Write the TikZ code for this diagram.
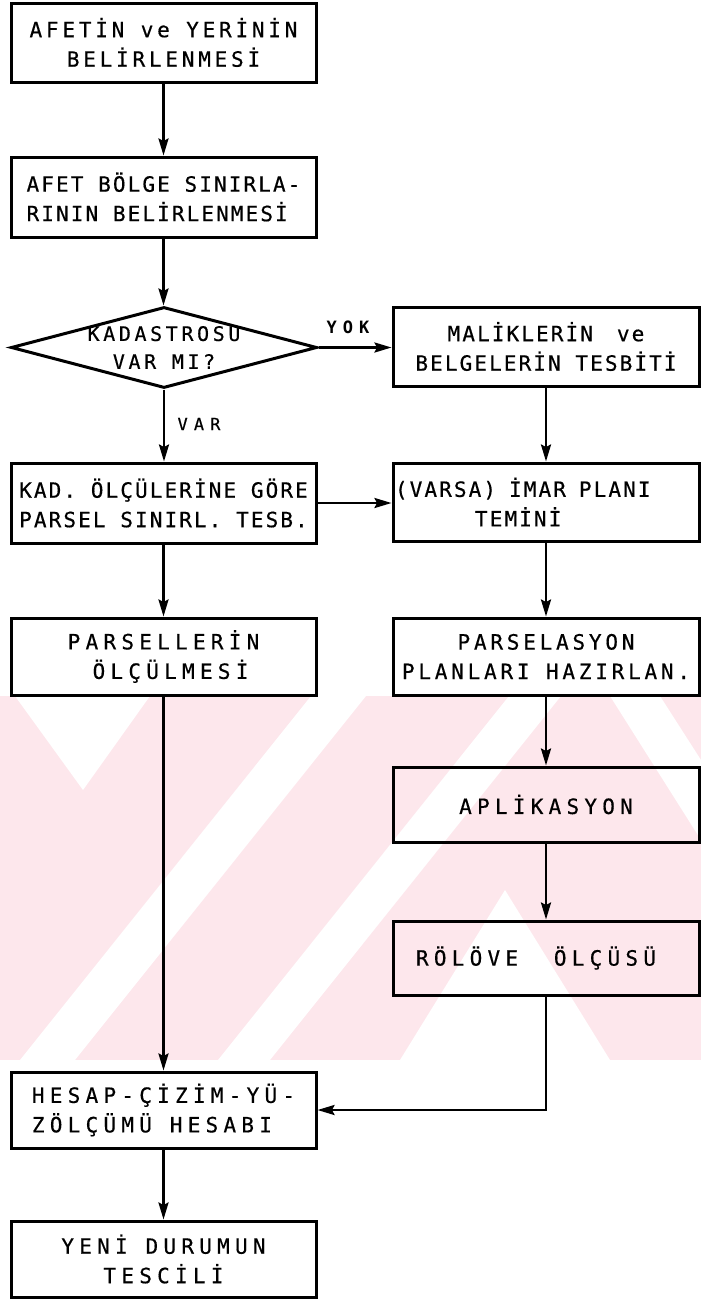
\documentclass[tikz,border=0pt]{standalone}
\usepackage{fontspec}
\setmainfont{DejaVu Sans Mono}
\newfontfamily\fa{DejaVu Sans Mono}[LetterSpace=10,FakeBold=0.5]
\newfontfamily\fb{DejaVu Sans Mono}[LetterSpace=18,FakeBold=0.5]
\newfontfamily\fc{DejaVu Sans Mono}[LetterSpace=25,FakeBold=0.5]
\newfontfamily\fl{DejaVu Sans Mono}[LetterSpace=36]
\newfontfamily\fv{DejaVu Sans Mono}[LetterSpace=36,FakeBold=0.4]
\usetikzlibrary{shapes.geometric,arrows.meta}
\definecolor{wm}{RGB}{253,231,236}
\begin{document}
\begin{tikzpicture}[x=1pt,y=-1pt,
  box/.style={draw, line width=3pt, minimum width=305pt, minimum height=78pt,
    inner sep=0pt, align=center, font=\fb\fontsize{21}{29.5}\selectfont},
  tight/.style={font=\fa\fontsize{21}{29.5}\selectfont},
  wide/.style={font=\fc\fontsize{21}{29.5}\selectfont},
  dia/.style={diamond, draw, line width=3pt, minimum width=306pt, minimum height=81pt,
    inner sep=0pt, aspect=3.78, font=\fb\fontsize{20}{28}\selectfont},
  arr/.style={line width=2.5pt, -{Stealth[length=17pt,width=10pt,inset=2.5pt]}},
  lbl/.style={font=\fl\bfseries\fontsize{17}{19}\selectfont}
]
\useasboundingbox (0,0) rectangle (701,1299);
\fill[white] (0,0) rectangle (701,1299);
% watermark
\begin{scope}
\clip (0,696) rectangle (701,1060);
\fill[wm] (0,696) rectangle (701,1060);
\fill[white] (15,696) -- (150,696) -- (83,790) -- cycle;
\fill[white] (20,1060) -- (75,1060) -- (366,696) -- (311,696) -- cycle;
\fill[white] (218,1060) -- (270,1060) -- (561,696) -- (509,696) -- cycle;
\fill[white] (505,890) -- (610,1060) -- (400,1060) -- cycle;
\fill[white] (610,696) -- (660,696) -- (701,760) -- (701,840) -- cycle;
\end{scope}
% nodes
\node[box, minimum height=79pt] (b1) at (163.5,42.5) {AFETİN ve YERİNİN\\BELİRLENMESİ};
\node[box, tight, align=left, minimum height=80pt] (b2) at (163.5,197) {AFET BÖLGE SINIRLA-\\RININ BELİRLENMESİ};
\node[dia] (d) at (164,347.5) {\smash{\raisebox{-7pt}{\begin{tabular}{@{}c@{}}KADASTROSU\\VAR MI?\end{tabular}}}};
\node[box, tight, minimum width=306pt, minimum height=79pt] (m) at (546,346.5) {MALİKLERİN\hspace{24pt}ve\\BELGELERİN TESBİTİ};
\node[box, tight, align=left, minimum height=80pt] (k) at (163.5,503) {KAD. ÖLÇÜLERİNE GÖRE\\PARSEL SINIRL. TESB.};
\node[box, tight, align=left, text width=302pt, minimum width=306pt, minimum height=78pt] (v) at (546,502) {(VARSA)\hspace{13pt}İMAR\hspace{13pt}PLANI\\\hspace*{80pt}TEMİNİ};
\node[box, wide, minimum height=77pt] (pl) at (163.5,656.5) {PARSELLERİN\\\hspace*{14pt}ÖLÇÜLMESİ};
\node[box, minimum width=306pt, minimum height=77pt] (pr) at (546,656.5) {PARSELASYON\\PLANLARI HAZIRLAN.};
\node[box, wide, minimum width=306pt, minimum height=75pt] (a) at (546,804.5) {APLİKASYON};
\node[box, wide, minimum width=306pt, minimum height=74pt] (r) at (546,958) {\hspace*{-20pt}RÖLÖVE\ \ ÖLÇÜSÜ};
\node[box, wide, align=left, minimum height=76pt] (h) at (163.5,1110) {HESAP-ÇİZİM-YÜ-\\ZÖLÇÜMÜ HESABI};
\node[box, wide, minimum height=76pt] (y) at (163.5,1259) {YENİ DURUMUN\\TESCİLİ};
% labels
\node[lbl] (yok) at (348,327) {YOK};
\node[lbl, font=\fv\fontsize{17}{19}\selectfont] (var) at (199,424) {VAR};
% connectors
\draw[arr] (b1) -- (b2);
\draw[arr] (b2.south) -- (b2.south |- d.north);
\draw[arr] (d.east) -- (d.east -| m.west);
\draw[arr] (d.south) -- (d.south |- k.north);
\draw[arr] (m) -- (v);
\draw[arr] (k.east) -- (k.east -| v.west);
\draw[arr] (k) -- (pl);
\draw[arr] (v) -- (pr);
\draw[arr] (pl) -- (h);
\draw[arr] (pr) -- (a);
\draw[arr] (a) -- (r);
\draw[arr] (r.south) |- (h.east);
\draw[arr] (h) -- (y);
\end{tikzpicture}
\end{document}
